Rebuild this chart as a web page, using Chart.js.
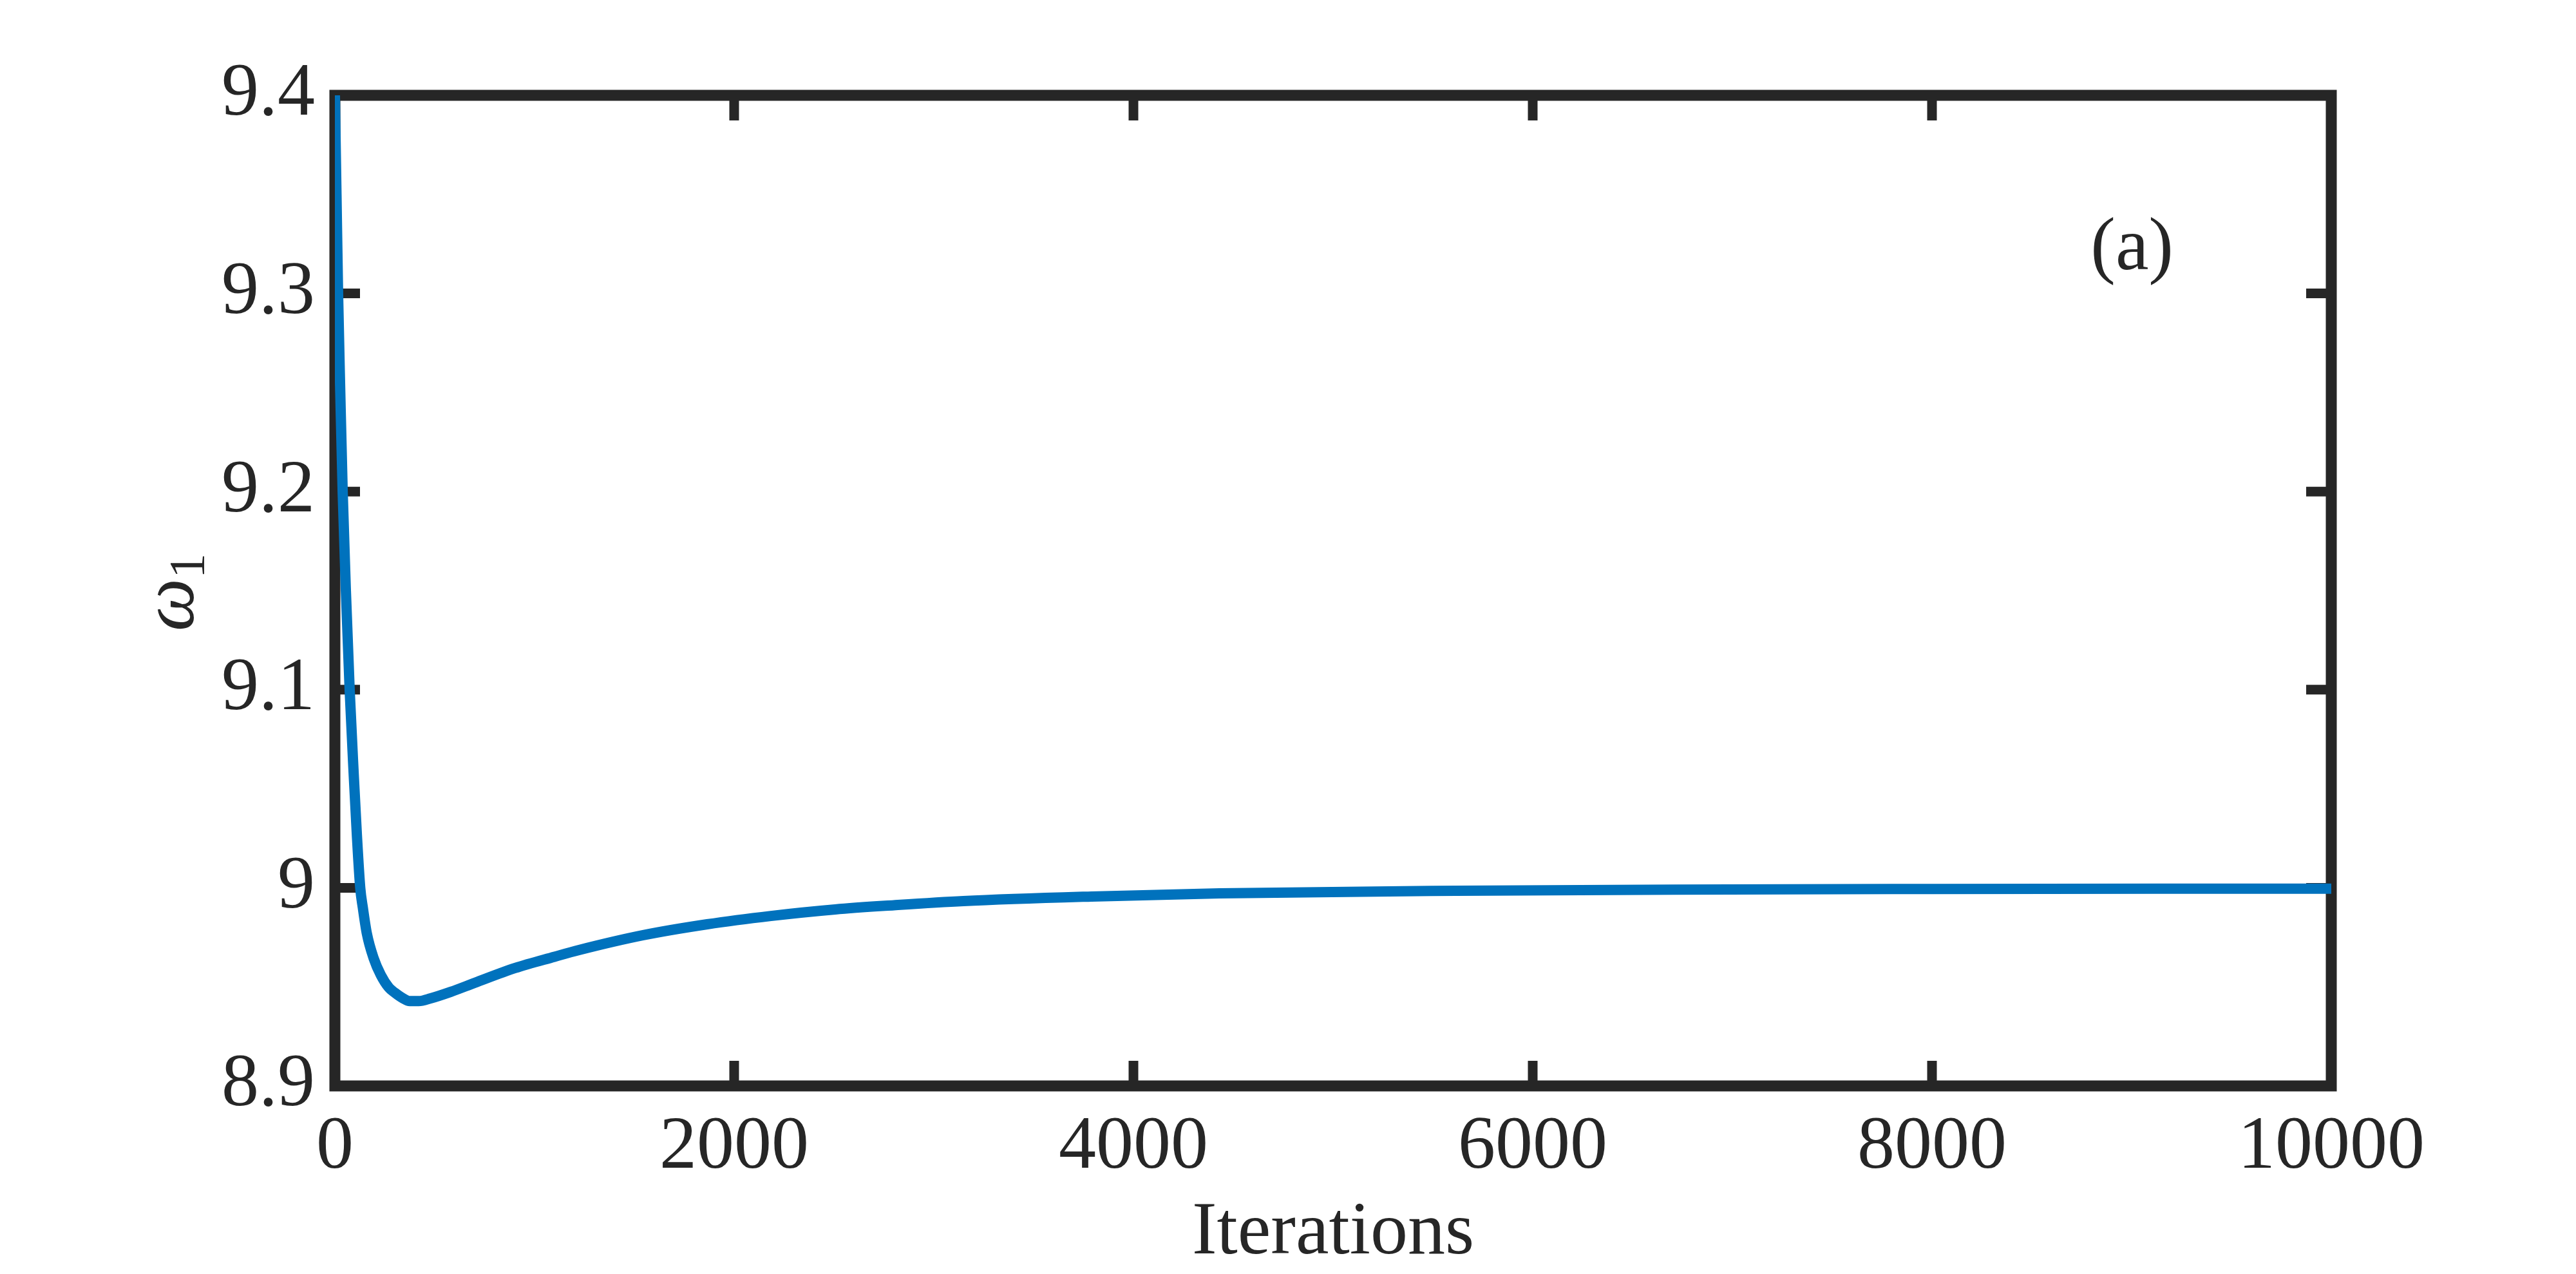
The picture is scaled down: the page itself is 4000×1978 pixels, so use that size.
<!DOCTYPE html>
<html>
<head>
<meta charset="utf-8">
<script src="https://cdn.jsdelivr.net/npm/chart.js@4.4.1/dist/chart.umd.min.js"></script>
<style>
  html, body { margin: 0; padding: 0; background: #fff; }
  #wrap { width: 4000px; height: 1978px; position: relative; }
</style>
</head>
<body>
<div id="wrap"><canvas id="omegaChart"></canvas></div>
<script>
// values
const iterations = [0, 8, 16, 27, 39, 55, 74, 95, 110, 127, 140, 160, 194, 230, 270, 301, 340, 375, 420, 480, 581, 700, 903, 1100, 1223, 1545, 1865, 2184, 2506, 2800, 3148, 3790, 4432, 5613, 6710, 8000, 10000];
const omega1 = [9.4, 9.35, 9.3, 9.25, 9.2, 9.15, 9.1, 9.056, 9.027, 9.0, 8.99, 8.977, 8.9645, 8.956, 8.9497, 8.947, 8.9443, 8.9428, 8.9428, 8.9442, 8.9475, 8.952, 8.9595, 8.9652, 8.9686, 8.9761, 8.9816, 8.9858, 8.9891, 8.9912, 8.9933, 8.9956, 8.9972, 8.9985, 8.9991, 8.9994, 8.9996];
const xTicks = [0, 2000, 4000, 6000, 8000, 10000];
const yTicks = [8.9, 9.0, 9.1, 9.2, 9.3, 9.4];

const axisColor = '#262626';
const serif = '"Liberation Serif", "Times New Roman", serif';

// MATLAB-style box with inward ticks on all four sides
const boxPlugin = {
    id: 'box',
    beforeDatasetsDraw(chart) {
        const { ctx, chartArea: a, scales: { x, y } } = chart;
        const len = 39;
        ctx.save();
        ctx.strokeStyle = axisColor;
        ctx.lineCap = 'butt';
        ctx.lineWidth = 15;
        ctx.beginPath();
        xTicks.forEach(v => {
            const px = x.getPixelForValue(v);
            ctx.moveTo(px, a.bottom); ctx.lineTo(px, a.bottom - len);
            ctx.moveTo(px, a.top); ctx.lineTo(px, a.top + len);
        });
        yTicks.forEach(v => {
            const py = y.getPixelForValue(v);
            ctx.moveTo(a.left, py); ctx.lineTo(a.left + len, py);
            ctx.moveTo(a.right, py); ctx.lineTo(a.right - len, py);
        });
        ctx.stroke();
        ctx.lineWidth = 17;
        ctx.lineJoin = 'miter';
        ctx.strokeRect(a.left, a.top, a.right - a.left, a.bottom - a.top);
        ctx.restore();
    },
    afterDraw(chart) {
        const { ctx, chartArea: a } = chart;
        ctx.save();
        ctx.fillStyle = axisColor;
        ctx.textBaseline = 'alphabetic';

        // panel label
        ctx.font = '116px ' + serif;
        ctx.textAlign = 'right';
        ctx.fillText('(a)', a.right - 245, a.top + 270);

        // y-axis label: omega with subscript 1, rotated
        ctx.textAlign = 'left';
        ctx.translate(a.left - 220, (a.top + a.bottom) / 2 + 63);
        ctx.rotate(-Math.PI / 2);
        ctx.font = 'italic 116px ' + serif;
        ctx.fillText('ω', 0, 0);
        const w = ctx.measureText('ω').width;
        ctx.font = '78px ' + serif;
        ctx.fillText('1', w, 16);
        ctx.restore();
    }
};

const points = iterations.map((it, i) => ({ x: it, y: omega1[i] }));

new Chart(document.getElementById('omegaChart'), {
    type: 'line',
    data: {
        datasets: [{
            data: points,
            borderColor: '#0072BD',
            borderWidth: 16,
            pointRadius: 0,
            cubicInterpolationMode: 'monotone',
            fill: false
        }]
    },
    options: {
        responsive: true,
        maintainAspectRatio: false,
        animation: false,
        events: [],
        layout: { padding: { top: 148, right: 380, left: 0, bottom: 0 } },
        plugins: { legend: { display: false }, tooltip: { enabled: false } },
        scales: {
            x: {
                type: 'linear',
                min: 0,
                max: 10000,
                afterBuildTicks: scale => { scale.ticks = xTicks.map(v => ({ value: v })); },
                afterFit: scale => { scale.height = 292; },
                grid: { display: false, drawTicks: false },
                border: { display: false },
                ticks: {
                    color: axisColor,
                    font: { family: serif, size: 116 },
                    padding: 27,
                    maxRotation: 0,
                    callback: v => String(v)
                },
                title: {
                    display: true,
                    text: 'Iterations',
                    color: axisColor,
                    font: { family: serif, size: 116, lineHeight: 1 },
                    padding: { top: 0, bottom: 4 }
                }
            },
            y: {
                type: 'linear',
                min: 8.9,
                max: 9.4,
                afterBuildTicks: scale => { scale.ticks = yTicks.map(v => ({ value: v })); },
                afterFit: scale => { scale.width = 520; },
                grid: { display: false, drawTicks: false },
                border: { display: false },
                ticks: {
                    color: axisColor,
                    font: { family: serif, size: 116 },
                    padding: 31,
                    callback: v => String(Number(v.toFixed(1)))
                }
            }
        }
    },
    plugins: [boxPlugin]
});
</script>
</body>
</html>
